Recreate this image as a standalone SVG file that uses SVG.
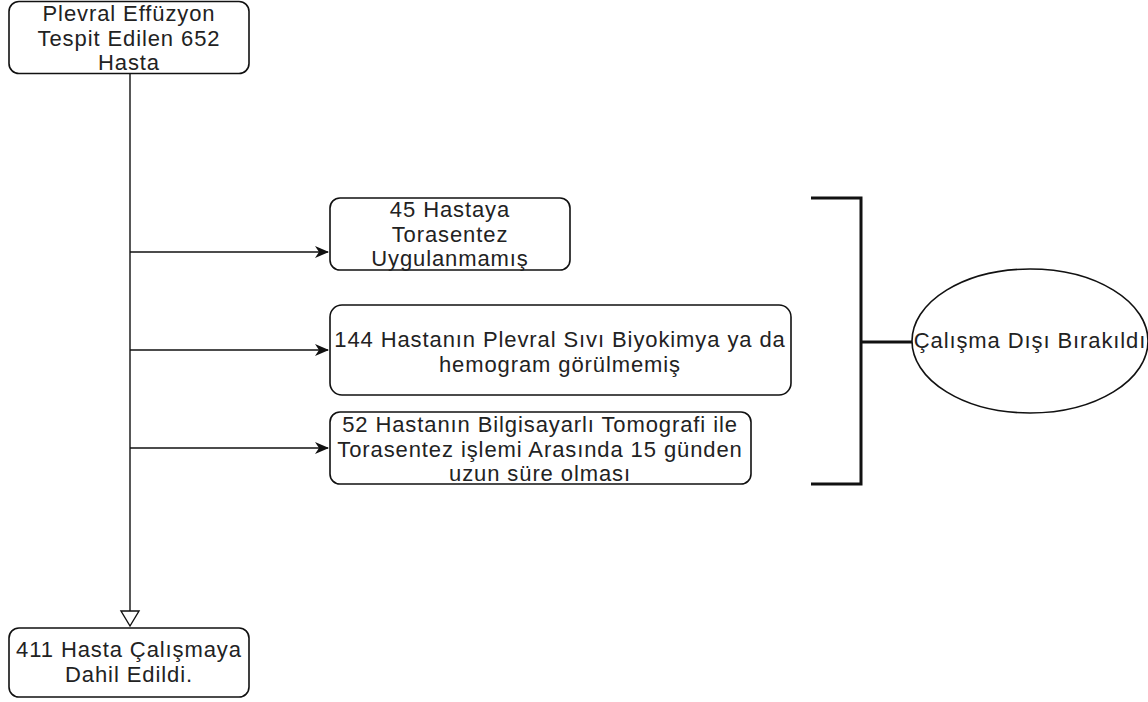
<svg xmlns="http://www.w3.org/2000/svg" width="1148" height="702" viewBox="0 0 1148 702">
<style>
.box{fill:#fff;stroke:#111;stroke-width:1.6}
.t{font-family:"Liberation Sans",Arial,sans-serif;font-size:22px;letter-spacing:0.9px;fill:#222;text-anchor:middle}
.c{fill:none;stroke:#111;stroke-width:1.4}
.br{fill:none;stroke:#111;stroke-width:3}
</style>
<defs>
<marker id="ah" markerWidth="14" markerHeight="12" refX="13" refY="6" orient="auto" markerUnits="userSpaceOnUse">
<path d="M0,0 L14,6 L0,12 L4,6 Z" fill="#111"/>
</marker>
</defs>
<g id="connectors">
<line class="c" x1="130" y1="74" x2="130" y2="612"/>
<path d="M121,611 L139,611 L130,626 Z" fill="#fff" stroke="#111" stroke-width="1.4"/>
<line class="c" x1="130" y1="252" x2="328" y2="252" marker-end="url(#ah)"/>
<line class="c" x1="130" y1="350" x2="328" y2="350" marker-end="url(#ah)"/>
<line class="c" x1="130" y1="448" x2="328" y2="448" marker-end="url(#ah)"/>
<path class="br" d="M811,198 H861 V484 H811"/>
<line class="br" x1="861" y1="342" x2="912" y2="342"/>
</g>
<g id="n1">
<rect class="box" x="9" y="1.5" width="240" height="72" rx="10"/>
<text class="t" x="129" y="21">Plevral Effüzyon</text>
<text class="t" x="129" y="45.5">Tespit Edilen 652</text>
<text class="t" x="129" y="70">Hasta</text>
</g>
<g id="n2">
<rect class="box" x="330" y="198" width="240" height="72" rx="10"/>
<text class="t" x="450" y="217">45 Hastaya</text>
<text class="t" x="450" y="241.5">Torasentez</text>
<text class="t" x="450" y="266">Uygulanmamış</text>
</g>
<g id="n3">
<rect class="box" x="330" y="305" width="461" height="90" rx="12"/>
<text class="t" x="560" y="347">144 Hastanın Plevral Sıvı Biyokimya ya da</text>
<text class="t" x="560" y="371.5">hemogram görülmemiş</text>
</g>
<g id="n4">
<rect class="box" x="330" y="412" width="421" height="72" rx="10"/>
<text class="t" x="540" y="432">52 Hastanın Bilgisayarlı Tomografi ile</text>
<text class="t" x="540" y="456.5">Torasentez işlemi Arasında 15 günden</text>
<text class="t" x="540" y="481">uzun süre olması</text>
</g>
<g id="n5">
<ellipse class="box" cx="1030" cy="341" rx="118" ry="72"/>
<text class="t" x="1030" y="348">Çalışma Dışı Bırakıldı</text>
</g>
<g id="n6">
<rect class="box" x="9" y="628" width="240" height="69" rx="10"/>
<text class="t" x="129" y="657">411 Hasta Çalışmaya</text>
<text class="t" x="129" y="681.5">Dahil Edildi.</text>
</g>
</svg>
